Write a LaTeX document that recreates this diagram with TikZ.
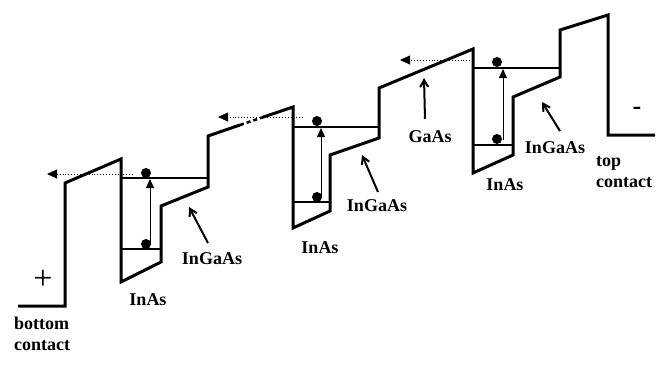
\documentclass[tikz,border=0pt]{standalone}
\usepackage{fontspec}
\setmainfont{Liberation Serif}
\usetikzlibrary{arrows.meta}
\tikzset{
  band/.style={line width=3pt, line join=miter},
  level/.style={line width=1.5pt},
  dotline/.style={line width=2.6pt, dash pattern=on 4pt off 3pt},
  elec/.style={fill=black, draw=none},
  excite/.style={line width=1pt, -{Triangle[length=9pt,width=8pt]}},
  escape/.style={line width=0.9pt, dotted, -{Triangle[length=10pt,width=9pt]}},
  lbl/.style={font=\bfseries\fontsize{18}{20}\selectfont, inner sep=0pt},
  ptr/.style={line width=2pt, -{Straight Barb[length=7pt,width=8pt]}}
}
\begin{document}
\begin{tikzpicture}[x=1pt,y=-1pt]
\useasboundingbox (0,0) rectangle (665,368);
% band profile
\draw[band] (18,306) -- (65,306) -- (65,183) -- (121,159) -- (121,282) -- (161,262)
  -- (161,206) -- (208,187) -- (208,136) -- (240,125);
\draw[dotline] (240,125) -- (262,117.5);
\draw[band] (262,117.5) -- (293,107) -- (293,228) -- (330,211) -- (330,155) -- (379,138)
  -- (379,88) -- (473,49) -- (473,173) -- (513,155) -- (513,97) -- (560,77) -- (560,30)
  -- (608,15) -- (608,135) -- (655,135);
% well levels
\draw[level] (121,178) -- (208,178);
\draw[level] (121,249) -- (161,249);
\draw[level] (293,127) -- (379,127);
\draw[level] (293,202) -- (330,202);
\draw[level] (473,68) -- (560,68);
\draw[level] (473,145) -- (513,145);
% electrons
\fill[elec] (146,173) circle (5);
\fill[elec] (146,244) circle (5);
\fill[elec] (317,121) circle (5);
\fill[elec] (317,197) circle (5);
\fill[elec] (497,62) circle (5);
\fill[elec] (497,139) circle (5);
% excitation arrows
\coordinate (e1a) at (150,245); \coordinate (e1b) at (150,179);
\coordinate (e2a) at (321,198); \coordinate (e2b) at (321,128);
\coordinate (e3a) at (503,140); \coordinate (e3b) at (503,69);
\draw[excite] (e1a) -- (e1b);
\draw[excite] (e2a) -- (e2b);
\draw[excite] (e3a) -- (e3b);
% escape arrows
\coordinate (s1a) at (133,174); \coordinate (s1b) at (47,174);
\coordinate (s2a) at (303,117); \coordinate (s2b) at (218,117);
\coordinate (s3a) at (473,60); \coordinate (s3b) at (400,60);
\draw[escape] (s1a) -- (s1b);
\draw[escape] (s2a) -- (s2b);
\draw[escape] (s3a) -- (s3b);
% labels
\node[lbl] (inas1) at (148,300) {InAs};
\node[lbl] (inas2) at (320,248) {InAs};
\node[lbl] (inas3) at (505,185) {InAs};
\node[lbl] (ingaas1) at (212,259) {InGaAs};
\node[lbl] (ingaas2) at (377,206) {InGaAs};
\node[lbl] (ingaas3) at (555,148) {InGaAs};
\node[lbl] (gaas) at (430,137) {GaAs};
\node[lbl, anchor=west] (bot1) at (14,323) {bottom};
\node[lbl, anchor=west] (bot2) at (14,346) {contact};
\node[lbl, anchor=west] (top1) at (596,163) {top};
\node[lbl, anchor=west] (top2) at (596,183) {contact};
\node[inner sep=0pt, font=\fontsize{34}{34}\selectfont] (plus) at (43,280) {+};
\node[inner sep=0pt, font=\bfseries\fontsize{26}{26}\selectfont] (minus) at (637,111) {-};
% pointer arrows
\coordinate (t1) at (208,243); \coordinate (p1) at (189,207);
\coordinate (t2) at (378,192); \coordinate (p2) at (362,155);
\coordinate (t3) at (560,131); \coordinate (p3) at (542,102);
\coordinate (t4) at (425,119); \coordinate (p4) at (424,78);
\draw[ptr] (t1) -- (p1);
\draw[ptr] (t2) -- (p2);
\draw[ptr] (t3) -- (p3);
\draw[ptr] (t4) -- (p4);
\end{tikzpicture}
\end{document}
